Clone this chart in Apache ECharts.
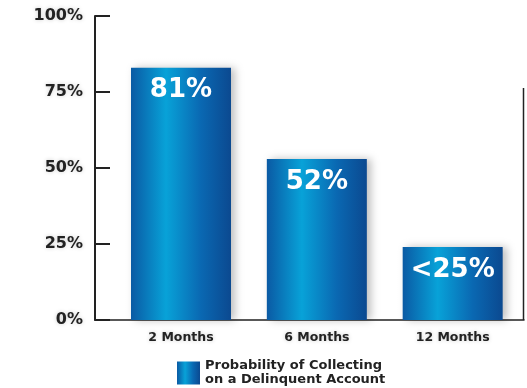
<!DOCTYPE html>
<html>
<head>
<meta charset="utf-8">
<script src="https://cdn.jsdelivr.net/npm/echarts@6/dist/echarts.min.js"></script>
<style>
  html, body { margin: 0; padding: 0; background: #fff; }
  #chart { width: 527px; height: 388px; }
</style>
</head>
<body>
<div id="chart"></div>
<script>
// data
const categories = ['2 Months', '6 Months', '12 Months'];
const positions = [1, 2, 3];
const values = [83, 53, 24];
const valueLabels = ['81%', '52%', '<25%'];
const yTicks = [0, 25, 50, 75, 100];
const seriesName = 'Probability of Collecting\non a Delinquent Account';

const chart = echarts.init(document.getElementById('chart'));
const font = '"DejaVu Sans", Arial, sans-serif';
const barFill = new echarts.graphic.LinearGradient(0, 0, 1, 0, [
  { offset: 0, color: '#0a5aa4' },
  { offset: 0.35, color: '#08a2d8' },
  { offset: 0.7, color: '#0a68b2' },
  { offset: 1, color: '#0b4990' }
]);

chart.setOption({
  backgroundColor: '#fff',
  animation: false,
  textStyle: { fontFamily: font },
  grid: { left: 95, right: 3, top: 16, bottom: 68 },
  legend: {
    left: 177, top: 359, padding: 0,
    itemWidth: 23, itemHeight: 23, itemGap: 7,
    icon: 'rect',
    data: [seriesName],
    textStyle: { color: '#222', fontSize: 13, fontWeight: 'bold', lineHeight: 14, fontFamily: font }
  },
  xAxis: {
    type: 'value', min: 0.367, max: 3.525,
    splitLine: { show: false },
    axisLine: { lineStyle: { color: '#222', width: 1.5 } },
    axisTick: { show: false },
    axisLabel: {
      customValues: positions,
      formatter: v => categories[positions.indexOf(v)] || '',
      color: '#222', fontSize: 12.5, fontWeight: 'bold', margin: 11,
      textShadowColor: 'rgba(0,0,0,0.2)', textShadowBlur: 4
    }
  },
  yAxis: {
    type: 'value', min: 0, max: 100, interval: 25,
    splitLine: { show: false },
    axisLine: { show: true, lineStyle: { color: '#222', width: 2 } },
    axisTick: { show: true, inside: true, length: 15, lineStyle: { color: '#222', width: 2 } },
    axisLabel: {
      customValues: yTicks,
      formatter: v => v + '%',
      color: '#222', fontSize: 16, fontWeight: 'bold', margin: 12,
      textShadowColor: 'rgba(0,0,0,0.2)', textShadowBlur: 4
    }
  },
  series: [{
    name: seriesName,
    type: 'bar',
    barWidth: 100,
    data: positions.map((p, i) => [p, values[i]]),
    itemStyle: {
      color: barFill,
      shadowColor: 'rgba(0,0,0,0.25)', shadowBlur: 8, shadowOffsetX: 4
    },
    label: {
      show: true, position: 'insideTop', distance: 10,
      formatter: p => valueLabels[p.dataIndex],
      color: '#fff', fontSize: 26, fontWeight: 'bold', fontFamily: font
    }
  }],
  graphic: [{
    type: 'line',
    shape: { x1: 523.5, y1: 88, x2: 523.5, y2: 320 },
    style: { stroke: '#222', lineWidth: 1.5 }
  }]
});
</script>
</body>
</html>
